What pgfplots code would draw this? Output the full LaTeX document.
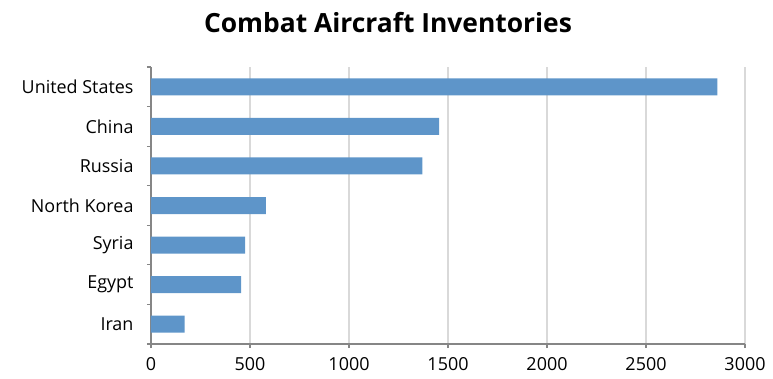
\documentclass[border=0pt]{standalone}
\usepackage{pgfplots}
\pgfplotsset{compat=1.18}
\usepackage{fontspec}
\setmainfont{Open Sans}
\definecolor{barblue}{RGB}{94,149,201}
\definecolor{axisgray}{RGB}{134,134,134}
\definecolor{gridgray}{RGB}{217,217,217}
\begin{document}
\begin{tikzpicture}
\useasboundingbox (-151bp,-35bp) rectangle (622bp,344bp);
\begin{axis}[
  at={(0,0)}, anchor=south west,
  scale only axis,
  width=594bp, height=277bp,
  xbar, bar width=17bp,
  xmin=0, xmax=3000,
  ymin=-0.5, ymax=6.5,
  xtick={0,500,...,3000},
  ytick={-0.5,0.5,...,6.5},
  yticklabels={},
  extra y ticks={0,1,2,3,4,5,6},
  extra y tick labels={Iran,Egypt,Syria,North Korea,Russia,China,United States},
  extra y tick style={major tick length=0pt, yticklabel style={xshift=-14bp}},
  axis x line*=bottom, axis y line*=left,
  axis line style={-, draw=axisgray, line width=1.3bp},
  xmajorgrids, major grid style={draw=gridgray, line width=1.2bp},
  major tick length=4bp,
  tick align=outside,
  tick style={draw=axisgray, line width=1.2bp},
  tick label style={font=\fontsize{18}{20}\selectfont},
  xticklabel style={yshift=-6bp},
  /pgf/number format/assume math mode=true,
  /pgf/number format/1000 sep={},
  clip=false,
]
\addplot[draw=none, fill=barblue, bar shift=0pt] coordinates {
  (170,0) (455,1) (475,2) (580,3) (1370,4) (1455,5) (2860,6)
};
\end{axis}
\node[font=\fontsize{26.5}{30}\selectfont\bfseries] at (237bp,321bp) {Combat Aircraft Inventories};
\end{tikzpicture}
\end{document}
